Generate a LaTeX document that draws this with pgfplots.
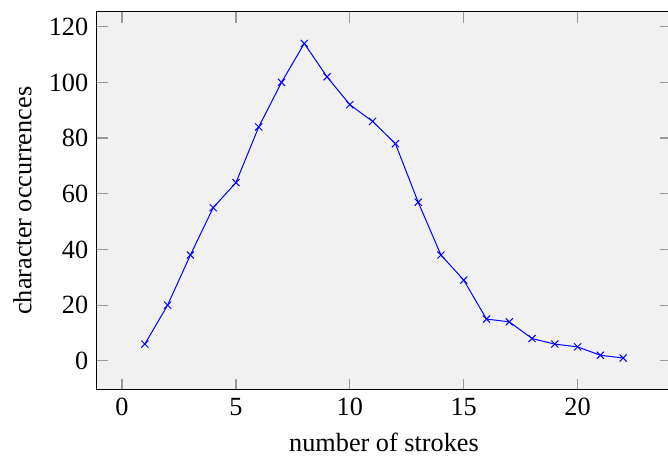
\documentclass[border=0pt]{standalone}
\usepackage{fontspec}
\setmainfont{Liberation Serif}
\usepackage{pgfplots}
\pgfplotsset{compat=1.18}

\begin{document}
\begin{tikzpicture}
\begin{axis}[
    name=a,
    scale only axis,
    width=229.6pt,
    height=151pt,
    axis background/.style={fill=gray!11},
    xlabel={number of strokes},
    ylabel={character occurrences},
    xtick={0,5,10,15,20},
    ytick={0,20,40,60,80,100,120},
    tick style={gray!80, line width=0.5pt},
    tick align=inside,
    tick label style={font=\fontsize{10.5}{12}\selectfont},
    label style={font=\fontsize{10.5}{12}\selectfont},
    /pgf/number format/assume math mode=true,
]
\addplot[blue, mark=x] coordinates {
    (1,6) (2,20) (3,38) (4,55) (5,64) (6,84) (7,100) (8,114)
    (9,102) (10,92) (11,86) (12,78) (13,57) (14,38) (15,29)
    (16,15) (17,14) (18,8) (19,6) (20,5) (21,2) (22,1)
};
\end{axis}
\pgfresetboundingbox
\path[use as bounding box] ([xshift=-38.8pt,yshift=-27.6pt]a.south west) rectangle ([xshift=-1.2pt,yshift=4.8pt]a.north east);
\end{tikzpicture}
\end{document}
